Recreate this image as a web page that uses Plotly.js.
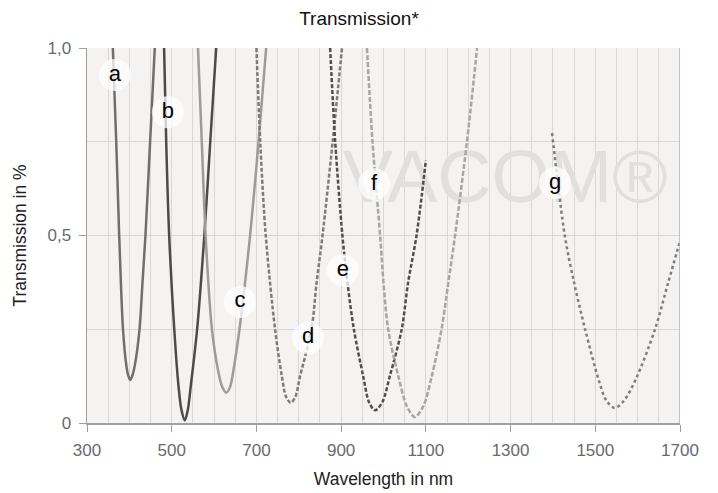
<!DOCTYPE html>
<html>
<head>
<meta charset="utf-8">
<script src="https://cdn.plot.ly/plotly-3.0.1.min.js"></script>
<style>html,body{margin:0;padding:0;background:#fff;}#chart{width:718px;height:493px;}</style>
</head>
<body>
<div id="chart"></div>
<script>
// Curve a
const aX = [361, 369, 376, 380, 385, 392, 397, 402, 408, 414, 424, 431, 438, 449, 460];
const aY = [1.0, 0.75, 0.5, 0.374, 0.25, 0.161, 0.128, 0.115, 0.13, 0.161, 0.25, 0.374, 0.5, 0.75, 1.0];
// Curve b
const bX = [482, 487, 494, 506, 516, 523, 531, 538, 545, 560, 577, 591, 605];
const bY = [1.0, 0.75, 0.5, 0.25, 0.099, 0.035, 0.007, 0.035, 0.099, 0.25, 0.5, 0.75, 1.0];
// Curve c
const cX = [562, 571, 580, 595, 609, 619, 629, 638, 646, 660, 685, 705, 723];
const cY = [1.0, 0.75, 0.5, 0.25, 0.143, 0.097, 0.081, 0.097, 0.143, 0.25, 0.5, 0.75, 1.0];
// Curve d
const dX = [700, 709, 722, 744, 760, 770, 781, 792, 803, 830, 842, 856, 880, 902];
const dY = [1.0, 0.75, 0.5, 0.25, 0.125, 0.07, 0.054, 0.07, 0.125, 0.25, 0.374, 0.5, 0.75, 1.0];
// Curve e
const eX = [874, 886, 903, 915, 930, 952, 966, 980, 997, 1015, 1043, 1058, 1078, 1100];
const eY = [1.0, 0.75, 0.5, 0.374, 0.25, 0.125, 0.055, 0.034, 0.055, 0.125, 0.25, 0.374, 0.5, 0.70];
// Curve f
const fX = [961, 974, 992, 1000, 1011, 1035, 1055, 1074, 1094, 1114, 1137, 1153, 1169, 1197, 1221];
const fY = [1.0, 0.75, 0.5, 0.374, 0.25, 0.125, 0.045, 0.016, 0.045, 0.125, 0.25, 0.374, 0.5, 0.75, 1.0];
// Curve g
const gX = [1398, 1428, 1450, 1476, 1508, 1526, 1546, 1568, 1595, 1641, 1672, 1700];
const gY = [0.773, 0.5, 0.374, 0.25, 0.115, 0.06, 0.04, 0.06, 0.115, 0.25, 0.374, 0.485];

// Curve labels
const labelText = ['a', 'b', 'c', 'd', 'e', 'f', 'g'];
const labelX = [366, 491, 661, 822, 904, 978, 1405];
const labelY = [0.928, 0.829, 0.323, 0.227, 0.408, 0.637, 0.64];

// Axis ticks
const xTicks = [300, 500, 700, 900, 1100, 1300, 1500, 1700];
const xTickText = ['300', '500', '700', '900', '1100', '1300', '1500', '1700'];
const yTicks = [0, 0.5, 1.0];
const yTickText = ['0', '0,5', '1,0'];

// Watermark
const wmText = ['VACOM®'];
const wmX = [1287];
const wmY = [0.64];

const FONT = 'Liberation Sans, Arial, Helvetica, sans-serif';

function curve(x, y, color, dash) {
  return {
    x: x, y: y, type: 'scatter', mode: 'lines',
    line: {color: color, width: 2.5, dash: dash, shape: 'spline', smoothing: 0.9},
    hoverinfo: 'skip', showlegend: false
  };
}

const traces = [
  {x: wmX, y: wmY, type: 'scatter', mode: 'text', text: wmText,
   textposition: 'middle center', textfont: {family: FONT, size: 75, color: '#e1e0df'},
   hoverinfo: 'skip', showlegend: false},
  curve(aX, aY, '#6f6f6f', 'solid'),
  curve(bX, bY, '#4b4b4b', 'solid'),
  curve(cX, cY, '#9c9c9c', 'solid'),
  curve(dX, dY, '#7c7c7c', '4px,2px'),
  curve(eX, eY, '#4f4f4f', '4px,2px'),
  curve(fX, fY, '#a6a6a6', '5px,2px'),
  curve(gX, gY, '#7d7d7d', 'dot'),
  {x: labelX, y: labelY, type: 'scatter', mode: 'markers+text', text: labelText,
   textposition: 'middle center',
   marker: {size: 32, color: 'rgba(255,255,255,0.75)', line: {width: 0}},
   textfont: {family: FONT, size: 22, color: '#000'},
   hoverinfo: 'skip', showlegend: false, cliponaxis: false}
];

const layout = {
  width: 718, height: 493,
  margin: {l: 87, r: 38, t: 48, b: 70},
  paper_bgcolor: '#ffffff',
  plot_bgcolor: '#f4f3f2',
  font: {family: FONT, color: '#666'},
  title: {text: 'Transmission*', font: {family: FONT, size: 19, color: '#111'}, x: 0.5, xanchor: 'center', y: 0.963, yanchor: 'middle'},
  xaxis: {
    range: [300, 1700], tickmode: 'array', tickvals: xTicks, ticktext: xTickText,
    showgrid: true, gridcolor: '#d9d8d7', gridwidth: 1,
    minor: {tickmode: 'linear', tick0: 300, dtick: 50, showgrid: true, gridcolor: '#d9d8d7', gridwidth: 1, ticks: ''},
    showline: true, linecolor: '#a0a0a0', linewidth: 1.5,
    ticks: 'outside', ticklen: 7, tickcolor: '#a0a0a0', tickwidth: 1,
    ticklabelstandoff: 4,
    zeroline: false, fixedrange: true,
    tickfont: {family: FONT, size: 17, color: '#6a6a6a'},
    title: {text: 'Wavelength in nm', font: {family: FONT, size: 17.5, color: '#222'}, standoff: 14}
  },
  yaxis: {
    range: [0, 1], tickmode: 'array', tickvals: yTicks, ticktext: yTickText,
    showgrid: true, gridcolor: '#d9d8d7', gridwidth: 1,
    minor: {tickmode: 'linear', tick0: 0, dtick: 0.25, showgrid: true, gridcolor: '#d9d8d7', gridwidth: 1, ticks: ''},
    showline: true, linecolor: '#a0a0a0', linewidth: 1.5,
    ticks: 'outside', ticklen: 7, tickcolor: '#a0a0a0', tickwidth: 1,
    ticklabelstandoff: 4,
    zeroline: false, fixedrange: true,
    tickfont: {family: FONT, size: 17, color: '#6a6a6a'},
    title: {text: 'Transmission in %', font: {family: FONT, size: 17.5, color: '#222'}, standoff: 16}
  },
  shapes: [
    {type: 'line', xref: 'x', yref: 'paper', x0: 1700, x1: 1700, y0: 0, y1: 1, line: {color: '#b0b0b0', width: 1.5}}
  ]
};

Plotly.newPlot('chart', traces, layout, {displayModeBar: false, staticPlot: true});
</script>
</body>
</html>
